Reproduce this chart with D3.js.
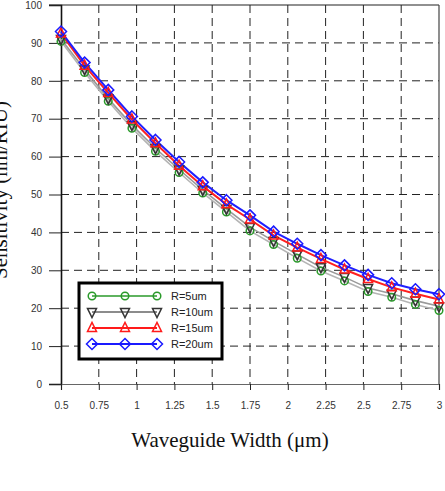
<!DOCTYPE html>
<meta charset="utf-8">
<script src="https://d3js.org/d3.v7.min.js"></script>
<style>
  body { margin: 0; background: #fff; }
</style>
<div id="chart"></div>
<script>

    // waveguide widths (um)
    var widths = [0.5, 0.656, 0.8125, 0.969, 1.125, 1.281, 1.4375, 1.594, 1.75,
                  1.906, 2.0625, 2.219, 2.375, 2.531, 2.6875, 2.844, 3];

    var seriesNames = ["R=5um", "R=10um", "R=15um", "R=20um"];
    var r5  = [90.4, 82.2, 74.6, 67.5, 61.4, 55.8, 50.4, 45.4, 40.4, 36.8, 33.2, 29.8, 27.2, 24.4, 22.9, 21.0, 19.4];
    var r10 = [91.0, 83.0, 75.3, 68.3, 62.2, 56.6, 51.2, 46.2, 41.4, 37.7, 34.2, 30.8, 28.2, 25.3, 23.8, 22.0, 20.5];
    var r15 = [92.5, 84.0, 76.8, 69.8, 63.5, 57.6, 52.2, 47.4, 43.4, 39.2, 36.0, 33.0, 30.2, 27.7, 25.5, 23.8, 22.3];
    var r20 = [93.0, 84.8, 77.6, 70.6, 64.4, 58.6, 53.2, 48.5, 44.5, 40.2, 37.0, 34.0, 31.3, 28.8, 26.6, 25.0, 23.7];

    var xTicks = [0.5, 0.75, 1, 1.25, 1.5, 1.75, 2, 2.25, 2.5, 2.75, 3];
    var yTicks = [0, 10, 20, 30, 40, 50, 60, 70, 80, 90, 100];

    var colors = ["#2a9a2a", "#333333", "#ff1a1a", "#1a1aff"];
    var lineColors = ["#b4b4b4", "#9a9a9a", "#ff2020", "#2020ff"];
    var symbols = ["circle", "down", "up", "diamond"];

    var width = 445, height = 491;

    var svg = d3.select("#chart")
      .append("svg")
        .attr("width", width)
        .attr("height", height);

    var x = d3.scaleLinear().domain([0.5, 3]).range([61, 439]);
    var y = d3.scaleLinear().domain([0, 100]).range([384, 5]);

    // grid
    svg.append("g")
      .selectAll("line")
      .data(yTicks.filter(function(d) { return d > 0 && d < 100; }))
      .enter().append("line")
        .attr("x1", x(0.5)).attr("x2", x(3))
        .attr("y1", function(d) { return y(d); })
        .attr("y2", function(d) { return y(d); })
        .attr("stroke", "#222")
        .attr("stroke-dasharray", "8,5");

    svg.append("g")
      .selectAll("line")
      .data(xTicks.filter(function(d) { return d > 0.5 && d < 3; }))
      .enter().append("line")
        .attr("x1", function(d) { return x(d); })
        .attr("x2", function(d) { return x(d); })
        .attr("y1", y(100)).attr("y2", y(0))
        .attr("stroke", "#222")
        .attr("stroke-dasharray", "8,5");

    // border top / right
    svg.append("line")
      .attr("x1", 49).attr("x2", x(3))
      .attr("y1", y(100)).attr("y2", y(100))
      .attr("stroke", "#222").attr("stroke-width", 1.2);
    svg.append("line")
      .attr("x1", x(3)).attr("x2", x(3))
      .attr("y1", y(100)).attr("y2", y(0))
      .attr("stroke", "#444").attr("stroke-width", 1.2);

    // axes
    var yAxis = svg.append("g")
      .attr("transform", "translate(" + x(0.5) + ",0)")
      .call(d3.axisLeft(y).tickValues(yTicks).tickSize(12).tickPadding(7));
    var xAxis = svg.append("g")
      .attr("transform", "translate(0," + y(0) + ")")
      .call(d3.axisBottom(x).tickValues(xTicks).tickSize(6).tickPadding(12)
        .tickFormat(function(d) { return String(d); }));

    [yAxis, xAxis].forEach(function(a) {
      a.select(".domain").attr("stroke", "#111").attr("stroke-width", 1.6);
      a.selectAll(".tick line").attr("stroke", "#222");
      a.selectAll("text")
        .attr("fill", "#333")
        .attr("font-family", "Liberation Sans, Arial, sans-serif")
        .attr("font-size", "10px");
    });
    xAxis.select(".domain").attr("stroke", "#666").attr("stroke-width", 1.2);

    // symbol drawer
    function marker(g, type, color, s) {
      if (type === "circle") {
        g.append("circle").attr("r", s * 0.42)
          .attr("fill", "none").attr("stroke", color).attr("stroke-width", 1.5);
      } else {
        var pts;
        if (type === "down") pts = [[-s/2, -s/2 + 1], [s/2, -s/2 + 1], [0, s/2 + 1]];
        else if (type === "up") pts = [[-s/2, s/2 - 1], [s/2, s/2 - 1], [0, -s/2 - 1]];
        else pts = [[0, -s/2 - 1], [s/2 + 1, 0], [0, s/2 + 1], [-s/2 - 1, 0]];
        g.append("polygon").attr("points", pts.map(function(p) { return p.join(","); }).join(" "))
          .attr("fill", "none").attr("stroke", color).attr("stroke-width", 1.5);
      }
    }

    var allSeries = [r5, r10, r15, r20];
    var line = d3.line()
      .x(function(d, i) { return x(widths[i]); })
      .y(function(d) { return y(d); });

    allSeries.forEach(function(vals, k) {
      svg.append("path")
        .datum(vals)
        .attr("fill", "none")
        .attr("stroke", lineColors[k])
        .attr("stroke-width", k >= 2 ? 2 : 1.6)
        .attr("d", line);
    });

    allSeries.forEach(function(vals, k) {
      vals.forEach(function(v, i) {
        var g = svg.append("g")
          .attr("transform", "translate(" + x(widths[i]) + "," + y(v) + ")");
        marker(g, symbols[k], colors[k], 9);
      });
    });

    // legend
    var leg = svg.append("g");
    leg.append("rect")
      .attr("x", 79).attr("y", 283).attr("width", 143).attr("height", 76)
      .attr("fill", "#fff").attr("stroke", "#000").attr("stroke-width", 3);

    seriesNames.forEach(function(name, k) {
      var ly = 296 + k * 16;
      var lc = k === 1 ? "#666" : colors[k];
      leg.append("line")
        .attr("x1", 92).attr("x2", 157).attr("y1", ly).attr("y2", ly)
        .attr("stroke", lc).attr("stroke-width", k >= 2 ? 2 : 1.5);
      [92, 125, 157].forEach(function(mx) {
        var g = leg.append("g").attr("transform", "translate(" + mx + "," + ly + ")");
        marker(g, symbols[k], colors[k], 9);
      });
      leg.append("text")
        .attr("x", 171).attr("y", ly + 4)
        .attr("font-family", "Liberation Sans, Arial, sans-serif")
        .attr("font-size", "11px")
        .attr("fill", "#222")
        .text(name);
    });

    // axis titles
    svg.append("text")
      .attr("x", 230).attr("y", 447)
      .attr("text-anchor", "middle")
      .attr("font-family", "Liberation Serif, Times New Roman, serif")
      .attr("font-size", "21px")
      .attr("fill", "#111")
      .text("Waveguide Width (\u03bcm)");

    // y title sits mostly off the left edge, as in the source figure
    svg.append("text")
      .attr("transform", "translate(7,190) rotate(-90)")
      .attr("text-anchor", "middle")
      .attr("font-family", "Liberation Serif, Times New Roman, serif")
      .attr("font-size", "21px")
      .attr("fill", "#111")
      .text("Sensitivity (nm/RIU)");

</script>
